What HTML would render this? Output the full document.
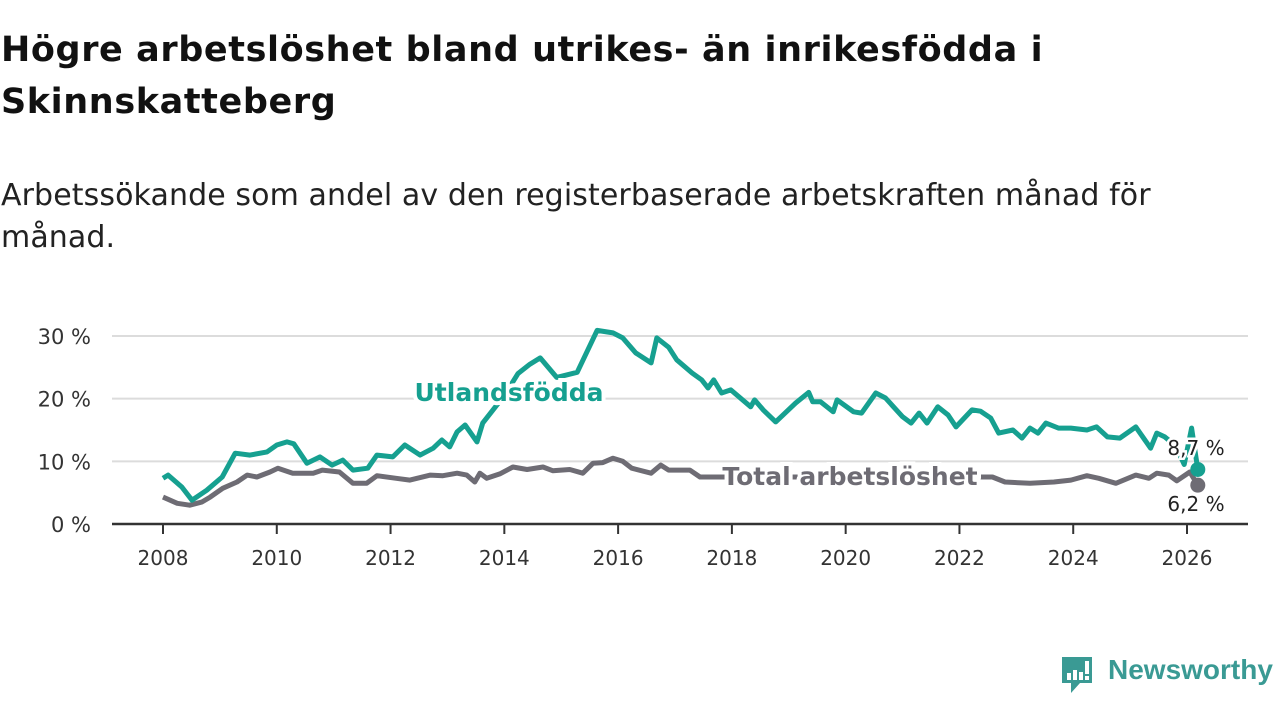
<!DOCTYPE html>
<html><head><meta charset="utf-8">
<style>
body{margin:0;background:#fff;font-family:"DejaVu Sans",sans-serif;}
#wrap{position:relative;width:1280px;height:720px;overflow:hidden;}
h1{position:absolute;left:1px;top:24px;margin:0;font-size:35px;line-height:52px;font-weight:bold;color:#111;font-family:"DejaVu Sans",sans-serif;letter-spacing:0.6px;white-space:nowrap;}
.sub{position:absolute;left:1px;top:175px;margin:0;font-size:30px;line-height:42px;color:#222;font-family:"DejaVu Sans",sans-serif;letter-spacing:0.1px;white-space:nowrap;}
svg{position:absolute;left:0;top:0;}
</style></head><body>
<div id="wrap">
<h1>Högre arbetslöshet bland utrikes- än inrikesfödda i<br>Skinnskatteberg</h1>
<p class="sub">Arbetssökande som andel av den registerbaserade arbetskraften månad för<br>månad.</p>
<svg id="chart" width="1280" height="720"></svg>
</div>
<script>
const yTicks=[0,10,20,30];
const yTickLabels=["0 %","10 %","20 %","30 %"];
const xTicks=[2008,2010,2012,2014,2016,2018,2020,2022,2024,2026];
const foreignYears=[2008,2008.09,2008.33,2008.51,2008.77,2009.04,2009.27,2009.53,2009.83,2010,2010.18,2010.3,2010.53,2010.76,2010.97,2011.16,2011.34,2011.6,2011.76,2012.04,2012.25,2012.52,2012.75,2012.9,2013.04,2013.17,2013.31,2013.52,2013.62,2013.8,2014.0,2014.24,2014.45,2014.63,2014.92,2015.28,2015.63,2015.91,2016.08,2016.31,2016.58,2016.68,2016.89,2017.03,2017.3,2017.47,2017.58,2017.68,2017.82,2017.98,2018.33,2018.4,2018.55,2018.77,2019.12,2019.35,2019.42,2019.56,2019.78,2019.85,2020.14,2020.28,2020.53,2020.7,2021,2021.15,2021.29,2021.43,2021.62,2021.8,2021.94,2022.22,2022.37,2022.55,2022.69,2022.94,2023.1,2023.24,2023.38,2023.52,2023.74,2023.96,2024.24,2024.41,2024.6,2024.82,2025.1,2025.36,2025.47,2025.61,2025.8,2025.95,2026.08,2026.19];
const foreignValues=[7.3,7.8,5.9,3.8,5.4,7.5,11.3,11,11.5,12.6,13.1,12.8,9.7,10.7,9.4,10.2,8.6,8.9,11,10.7,12.6,11,12.1,13.4,12.3,14.7,15.8,13.1,16.1,18.2,20.5,24,25.5,26.5,23.4,24.2,30.9,30.5,29.7,27.3,25.7,29.7,28.2,26.2,24.1,23,21.7,23,20.9,21.4,18.7,19.8,18.2,16.3,19.3,21,19.5,19.5,17.9,19.8,17.9,17.7,20.9,20.1,17.1,16.1,17.7,16.1,18.7,17.4,15.5,18.2,18,16.9,14.5,15,13.7,15.3,14.5,16.1,15.3,15.3,15,15.5,13.9,13.7,15.5,12.1,14.5,13.9,12.5,9.5,15.3,8.7];
const totalYears=[2008,2008.25,2008.47,2008.68,2008.83,2009.05,2009.3,2009.48,2009.65,2009.88,2010.02,2010.28,2010.64,2010.8,2011.1,2011.34,2011.58,2011.76,2012.1,2012.34,2012.7,2012.92,2013.17,2013.34,2013.48,2013.57,2013.69,2013.92,2014.15,2014.4,2014.68,2014.85,2015.15,2015.38,2015.56,2015.73,2015.91,2016.08,2016.24,2016.58,2016.75,2016.89,2017.26,2017.44,2017.65,2018.5,2020,2021.5,2022.58,2022.8,2023.24,2023.66,2023.96,2024.24,2024.45,2024.75,2025.1,2025.33,2025.47,2025.68,2025.82,2026.05,2026.19];
const totalValues=[4.3,3.3,3.0,3.5,4.3,5.7,6.7,7.8,7.5,8.3,8.9,8.1,8.1,8.6,8.3,6.5,6.5,7.7,7.3,7.0,7.8,7.7,8.1,7.8,6.7,8.1,7.3,8.0,9.1,8.7,9.1,8.5,8.7,8.1,9.7,9.8,10.5,10.0,8.9,8.1,9.4,8.6,8.6,7.5,7.5,7.5,7.5,7.5,7.5,6.7,6.5,6.7,7.0,7.7,7.3,6.5,7.8,7.3,8.1,7.8,6.9,8.3,6.2];
const NS="http://www.w3.org/2000/svg";
const svg=document.getElementById('chart');
const x=v=>163+(v-2008)*(1187-163)/18;
const y=v=>524-v*(524-336)/30;
const FF='DejaVu Sans, sans-serif';
function mk(t,a){const e=document.createElementNS(NS,t);for(const k in a)e.setAttribute(k,a[k]);svg.appendChild(e);return e;}
yTicks.forEach((t,i)=>{
 if(t>0){const g=mk('line',{x1:112,x2:1248,y1:y(t),y2:y(t),stroke:'#dcdcdc','stroke-width':2});
 
 }
 const l=mk('text',{x:91,y:y(t)+8,'text-anchor':'end','font-size':21,fill:'#333','font-family':FF});
 l.textContent=yTickLabels[i];
 
 
});
const ax=mk('line',{x1:112,x2:1248,y1:524,y2:524,stroke:'#333','stroke-width':2.5});


xTicks.forEach(t=>{
 const tk=mk('line',{x1:x(t),x2:x(t),y1:524,y2:534,stroke:'#333','stroke-width':2});
 
 
 const l=mk('text',{x:x(t),y:565,'text-anchor':'middle','font-size':20,fill:'#333','font-family':FF});
 l.textContent=t;
 
 
});
function line(xs,vs,col,name){
 const d=xs.map((v,i)=>(i?'L':'M')+x(v).toFixed(1)+','+y(vs[i]).toFixed(1)).join('');
 const p=mk('path',{d:d,fill:'none',stroke:col,'stroke-width':5,'stroke-linejoin':'round'});
 
 
 const n=xs.length-1;
 const c=mk('circle',{cx:x(xs[n]),cy:y(vs[n]),r:7.5,fill:col});
 
 
}
line(totalYears,totalValues,'#6e6c74','total-line');
line(foreignYears,foreignValues,'#16a090','foreign-born-line');
function lab(txt,xx,yy,col,size,bold,name,anchor){
 const t=mk('text',{x:xx,y:yy,'font-size':size,fill:col,'font-weight':bold?'bold':'normal','text-anchor':anchor||'start',stroke:'#fff','stroke-width':bold?8:5,'paint-order':'stroke','font-family':FF});
 t.textContent=txt;
 
 
}
lab('Utlandsfödda',509,401,'#16a090',25,true,'foreign-born-label','middle');
lab('Total arbetslöshet',850,485,'#6e6c74',25,true,'total-label','middle');
lab('8,7 %',1196,455,'#222',20,false,'foreign-end-value','middle');
lab('6,2 %',1196,511,'#222',20,false,'total-end-value','middle');
</script>
<div style="position:absolute;left:1060px;top:655px;">
<svg width="36" height="42" style="position:absolute;left:0;top:0">
<path d="M2 2H32V28H20L11 38V28H2Z" fill="#3a9a94"/>
<rect x="7" y="18" width="4" height="7" fill="#fff"/><rect x="13" y="15" width="4" height="10" fill="#fff"/><rect x="19" y="17" width="4" height="8" fill="#fff"/><rect x="25" y="6" width="4" height="13" fill="#fff"/><rect x="25" y="21" width="4" height="4" fill="#fff"/>
</svg>
<span style="position:absolute;left:48px;top:-1px;font-size:28px;color:#3a9a94;font-weight:bold;font-family:'Liberation Sans',sans-serif;white-space:nowrap">Newsworthy</span>
</div>
</body></html>
